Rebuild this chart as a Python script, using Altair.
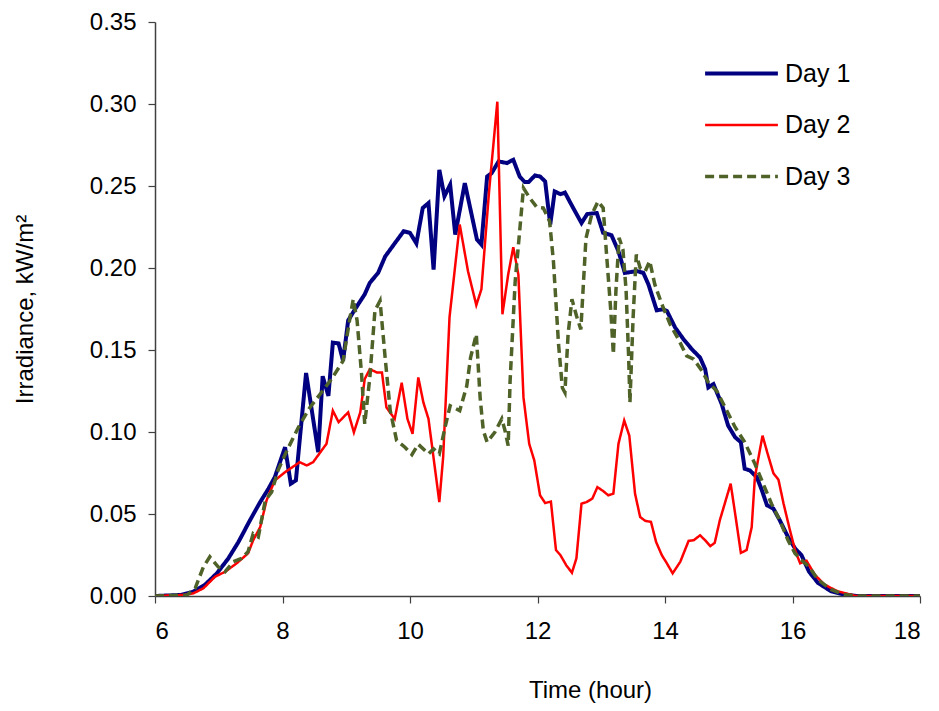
import altair as alt
import pandas as pd

# ---- data ----
series_names = ["Day 1", "Day 2", "Day 3"]
series_colors = ["#000080", "#FF0000", "#4F6228"]

h1 = [6.0, 6.4, 6.6, 6.78, 6.97, 7.15, 7.31, 7.49, 7.65, 7.78, 7.88, 8.04, 8.13, 8.21, 8.37, 8.56, 8.63, 8.72, 8.79, 8.88,
      8.95, 9.03, 9.14, 9.29, 9.37, 9.50, 9.61, 9.76, 9.90, 10.0, 10.10, 10.20, 10.29, 10.37, 10.46, 10.54, 10.63, 10.71,
      10.86, 11.05, 11.12, 11.21, 11.28, 11.39, 11.52, 11.62, 11.72, 11.80, 11.86, 11.96, 12.04, 12.12, 12.20, 12.27,
      12.36, 12.43, 12.56, 12.69, 12.78, 12.93, 13.03, 13.16, 13.27, 13.37, 13.56, 13.66, 13.74, 13.87, 13.97, 14.03,
      14.16, 14.29, 14.42, 14.55, 14.63, 14.68, 14.76, 14.89, 14.99, 15.10, 15.19, 15.25, 15.33, 15.44, 15.52, 15.60,
      15.70, 15.80, 15.93, 16.04, 16.14, 16.26, 16.4, 16.6, 16.8, 17.0, 18.0]
v1 = [0, 0.0006, 0.0026, 0.0067, 0.0138, 0.0229, 0.033, 0.0462, 0.0573, 0.0654, 0.0725, 0.0907, 0.0685, 0.0705, 0.136,
      0.0877, 0.134, 0.122, 0.1545, 0.154, 0.1434, 0.168, 0.175, 0.184, 0.191, 0.197, 0.207, 0.215, 0.2224, 0.2214, 0.215,
      0.2366, 0.2396, 0.199, 0.2599, 0.2437, 0.2508, 0.2204, 0.2518, 0.2174, 0.2143, 0.2558, 0.2578, 0.265, 0.264, 0.266,
      0.2558, 0.2524, 0.2524, 0.2564, 0.2558, 0.2528, 0.2265, 0.2467, 0.245, 0.246, 0.2366, 0.2274, 0.2329, 0.2335,
      0.2214, 0.220, 0.2102, 0.197, 0.1981, 0.197, 0.190, 0.1742, 0.1748, 0.1738, 0.1636, 0.1566, 0.1505, 0.1454, 0.1383,
      0.1272, 0.1292, 0.117, 0.1039, 0.0968, 0.0938, 0.0776, 0.0766, 0.0725, 0.0644, 0.0553, 0.0533, 0.0462, 0.036,
      0.029, 0.0249, 0.0148, 0.008, 0.003, 0.001, 0.0, 0.0]

h2 = [6.0, 6.44, 6.6, 6.76, 6.94, 7.10, 7.28, 7.46, 7.54, 7.65, 7.75, 7.88, 8.04, 8.27, 8.38, 8.48, 8.69, 8.79, 8.88, 9.03,
      9.12, 9.22, 9.29, 9.37, 9.48, 9.56, 9.63, 9.76, 9.87, 9.96, 10.04, 10.13, 10.21, 10.29, 10.46, 10.52, 10.62, 10.78,
      10.91, 11.04, 11.12, 11.24, 11.37, 11.45, 11.54, 11.62, 11.70, 11.78, 11.87, 11.95, 12.04, 12.12, 12.21, 12.29,
      12.36, 12.45, 12.54, 12.61, 12.69, 12.77, 12.86, 12.94, 13.03, 13.11, 13.19, 13.27, 13.36, 13.44, 13.53, 13.61,
      13.69, 13.78, 13.86, 13.95, 14.03, 14.12, 14.24, 14.37, 14.45, 14.55, 14.63, 14.71, 14.78, 14.86, 15.03, 15.10,
      15.19, 15.28, 15.36, 15.41, 15.53, 15.61, 15.70, 15.78, 15.86, 15.96, 16.04, 16.12, 16.22, 16.35, 16.5, 16.7,
      16.9, 17.0, 18.0]
v2 = [0, 0.0006, 0.0016, 0.0047, 0.0117, 0.0148, 0.0199, 0.026, 0.034, 0.042, 0.0583, 0.0705, 0.0755, 0.0816, 0.0796,
      0.0816, 0.0928, 0.113, 0.106, 0.112, 0.0998, 0.112, 0.1323, 0.1383, 0.1363, 0.1363, 0.115, 0.108, 0.130, 0.108,
      0.0989, 0.1333, 0.118, 0.108, 0.0573, 0.0846, 0.170, 0.2265, 0.198, 0.1774, 0.187, 0.2467, 0.3014, 0.1718, 0.196,
      0.2127, 0.196, 0.1211, 0.0928, 0.0826, 0.0614, 0.0567, 0.0576, 0.028, 0.0249, 0.0188, 0.0142, 0.0229, 0.0563,
      0.0573, 0.0594, 0.0664, 0.064, 0.0614, 0.0624, 0.0928, 0.107, 0.0978, 0.0624, 0.0482, 0.0458, 0.0452, 0.033,
      0.0249, 0.0199, 0.0138, 0.0209, 0.0336, 0.034, 0.037, 0.034, 0.0304, 0.0324, 0.0462, 0.0685, 0.0503, 0.0263,
      0.028, 0.042, 0.0725, 0.0978, 0.0867, 0.0749, 0.0709, 0.0563, 0.0401, 0.028, 0.0199, 0.0215, 0.013, 0.007,
      0.003, 0.001, 0, 0]

h3 = [6.0, 6.5, 6.63, 6.76, 6.86, 6.99, 7.10, 7.23, 7.36, 7.46, 7.54, 7.62, 7.73, 7.83, 7.93, 8.07, 8.25, 8.43, 8.61, 8.77,
      8.95, 9.06, 9.11, 9.17, 9.24, 9.29, 9.37, 9.45, 9.53, 9.61, 9.69, 9.79, 9.92, 10.03, 10.13, 10.29, 10.37, 10.46,
      10.55, 10.63, 10.78, 10.89, 10.95, 11.04, 11.10, 11.15, 11.21, 11.33, 11.44, 11.49, 11.54, 11.57, 11.61, 11.65,
      11.72, 11.78, 11.88, 11.99, 12.09, 12.19, 12.25, 12.33, 12.39, 12.43, 12.48, 12.54, 12.61, 12.68, 12.76, 12.85,
      12.95, 13.03, 13.08, 13.15, 13.19, 13.23, 13.28, 13.34, 13.39, 13.43, 13.45, 13.50, 13.55, 13.61, 13.69, 13.76,
      13.84, 13.95, 14.08, 14.21, 14.34, 14.45, 14.58, 14.68, 14.81, 14.97, 15.10, 15.25, 15.41, 15.54, 15.67, 15.80,
      15.93, 16.04, 16.17, 16.26, 16.4, 16.6, 16.8, 17.0, 18.0]
v3 = [0, 0.0006, 0.0047, 0.0178, 0.0239, 0.0178, 0.0148, 0.0209, 0.0229, 0.027, 0.038, 0.036, 0.0583, 0.0634, 0.0766,
      0.0887, 0.1029, 0.115, 0.1241, 0.1323, 0.1434, 0.170, 0.181, 0.168, 0.1353, 0.105, 0.1333, 0.174, 0.180, 0.1454,
      0.113, 0.0948, 0.0907, 0.0862, 0.0925, 0.0867, 0.0897, 0.0867, 0.1029, 0.116, 0.113, 0.128, 0.1454, 0.1596, 0.121,
      0.1009, 0.0938, 0.0998, 0.108, 0.1009, 0.0917, 0.131, 0.1616, 0.192, 0.2224, 0.2487, 0.2426, 0.237, 0.2366,
      0.2285, 0.204, 0.1535, 0.127, 0.1241, 0.1596, 0.181, 0.171, 0.1626, 0.218, 0.2325, 0.2406, 0.2366, 0.210, 0.1738,
      0.1474, 0.186, 0.2184, 0.2113, 0.186, 0.1454, 0.118, 0.170, 0.2082, 0.200, 0.198, 0.2042, 0.190, 0.178, 0.1657,
      0.1566, 0.1464, 0.1444, 0.1373, 0.1302, 0.1252, 0.113, 0.1029, 0.0938, 0.0806, 0.0685, 0.0563, 0.0462, 0.034,
      0.0259, 0.0209, 0.0178, 0.01, 0.004, 0.001, 0, 0]

x_ticks = [6, 8, 10, 12, 14, 16, 18]
y_ticks = [0, 0.05, 0.10, 0.15, 0.20, 0.25, 0.30, 0.35]

rows = []
for name, hs, vs in zip(series_names, [h1, h2, h3], [v1, v2, v3]):
    n = min(len(hs), len(vs))
    for i in range(n):
        rows.append({"day": name, "hour": hs[i], "irr": vs[i], "order": i})
df = pd.DataFrame(rows)

FONT = "Liberation Sans"

legend = alt.Legend(title=None, orient="none", legendX=548, legendY=13,
                    symbolType="stroke", symbolSize=5300,
                    labelFontSize=25, labelFont=FONT, labelColor="black",
                    rowPadding=0, labelOffset=5)

chart = alt.Chart(df).mark_line(interpolate="linear", clip=True).encode(
    x=alt.X("hour:Q",
            scale=alt.Scale(domain=[6, 18], nice=False, zero=False),
            axis=alt.Axis(values=x_ticks, format="d", title="Time (hour)",
                          titleX=435, titleY=94, titleAlign="center", titleBaseline="middle",
                          labelPadding=16)),
    y=alt.Y("irr:Q",
            scale=alt.Scale(domain=[0, 0.35], nice=False),
            axis=alt.Axis(values=y_ticks, format=".2f", title="Irradiance, kW/m²",
                          titleX=-130, titleY=287, titleAlign="center", titleBaseline="middle",
                          labelPadding=12)),
    color=alt.Color("day:N",
                    scale=alt.Scale(domain=series_names, range=series_colors),
                    legend=legend),
    strokeDash=alt.StrokeDash("day:N",
                              scale=alt.Scale(domain=series_names, range=[[1, 0], [1, 0], [9, 5]]),
                              legend=legend),
    strokeWidth=alt.StrokeWidth("day:N",
                                scale=alt.Scale(type="ordinal", domain=series_names, range=[4, 2.5, 3.5]),
                                legend=legend),
    order="order:Q",
).properties(
    width=765, height=574,
    autosize=alt.AutoSizeParams(type="none"),
    padding={"left": 147, "top": 14, "right": 11, "bottom": 107},
).configure_view(
    stroke=None
).configure_axis(
    grid=False,
    domainColor="#404040", domainWidth=1.5,
    tickColor="#404040", tickSize=7, tickWidth=1.2,
    labelFont=FONT, labelFontSize=24, labelColor="black",
    titleFont=FONT, titleFontSize=24, titleColor="black", titleFontWeight="normal",
)

chart.save("out.html", embed_options={"renderer": "svg", "actions": False})
